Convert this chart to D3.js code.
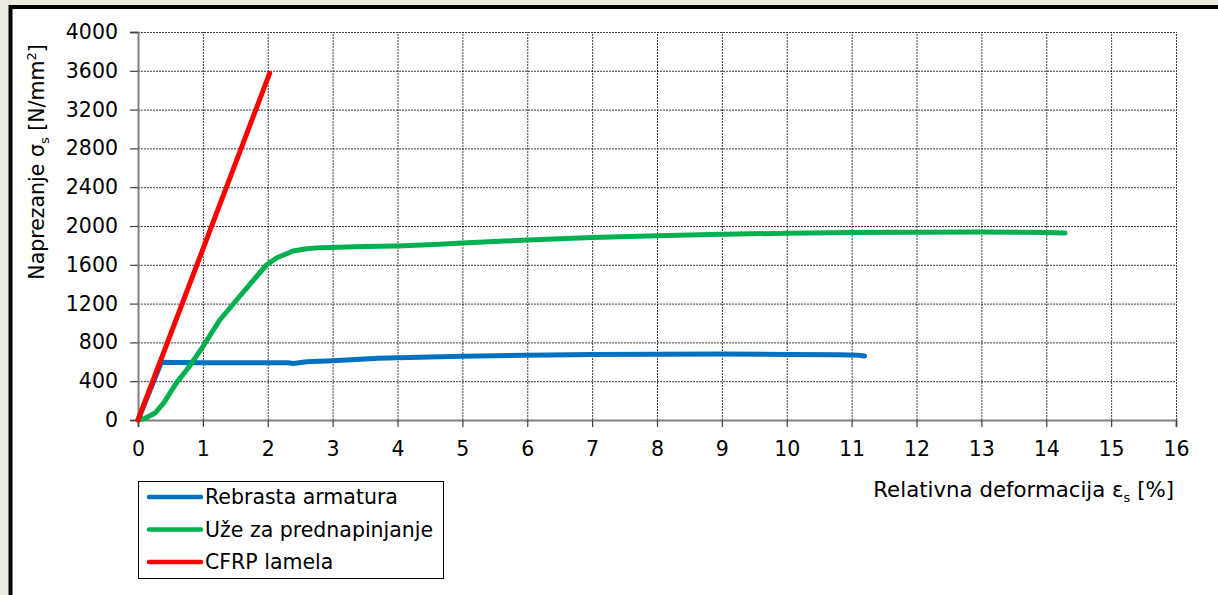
<!DOCTYPE html>
<html><head><meta charset="utf-8">
<script src="https://cdn.jsdelivr.net/npm/d3@7"></script>
<style>
html,body{margin:0;padding:0;background:#ECE9DF;}
svg{display:block;}
text{font-family:"DejaVu Sans",sans-serif;fill:#000;}
</style></head><body>
<svg id="c" width="1218" height="595"></svg>
<script>
const xTicks = [0,1,2,3,4,5,6,7,8,9,10,11,12,13,14,15,16];
const yTicks = [0,400,800,1200,1600,2000,2400,2800,3200,3600,4000];
const seriesNames = ["Rebrasta armatura","Uže za prednapinjanje","CFRP lamela"];
const seriesColors = ["#0070C0","#00B050","#FF0000"];
const rebrasta = [[0,0],[0.36,595],[0.6,592],[1,590],[1.5,590],[2,590],[2.3,590],[2.4,582],[2.6,600],[3,612],[3.7,636],[4.5,650],[5,657],[6,668],[7,675],[8,678],[9,680],[10,676],[10.8,672],[11.1,668],[11.2,660]];
const uze = [[0,0],[0.1,15],[0.26,69],[0.4,180],[0.49,275],[0.6,390],[0.75,515],[0.83,590],[1.0,756],[1.26,1031],[1.52,1237],[1.78,1443],[1.98,1598],[2.14,1673],[2.39,1742],[2.6,1765],[2.81,1777],[3.5,1788],[4,1795],[4.65,1811],[5,1825],[6,1855],[7,1882],[8,1900],[9,1915],[10,1925],[11,1932],[12,1936],[13,1937],[13.5,1936],[14,1933],[14.29,1928]];
const cfrp = [[0,0],[2.03,3575]];
const allSeries = [rebrasta, uze, cfrp];

const svg = d3.select("#c");
// frame
svg.append("rect").attr("x",10.5).attr("y",7).attr("width",1230).attr("height",620)
  .attr("fill","#fff").attr("stroke","#000").attr("stroke-width",4);

const x = d3.scaleLinear().domain([0,16]).range([138,1176]);
const y = d3.scaleLinear().domain([0,4000]).range([420,32]);

// grid
const g = svg.append("g");
g.selectAll(".hg").data(yTicks.filter(d=>d>0)).join("line")
  .attr("x1",x(0)).attr("x2",x(16)).attr("y1",d=>y(d)+0.5).attr("y2",d=>y(d)+0.5)
  .attr("stroke","#000").attr("stroke-width",1).attr("stroke-dasharray","2,1").attr("opacity",0.75);
g.selectAll(".vg").data(xTicks.filter(d=>d>0)).join("line")
  .attr("y1",y(0)).attr("y2",y(4000)).attr("x1",d=>x(d)+0.5).attr("x2",d=>x(d)+0.5)
  .attr("stroke","#000").attr("stroke-width",1).attr("stroke-dasharray","2,1").attr("opacity",0.75);

// axes
const xa = svg.append("g").attr("transform",`translate(0,${y(0)})`)
  .call(d3.axisBottom(x).tickValues(xTicks).tickSize(7).tickPadding(14).tickFormat(d3.format("d")));
const ya = svg.append("g").attr("transform",`translate(${x(0)},0)`)
  .call(d3.axisLeft(y).tickValues(yTicks).tickSize(8).tickPadding(12).tickFormat(d3.format("d")));
[xa,ya].forEach(a=>{
  a.select(".domain").attr("stroke","#808080").attr("stroke-width",2);
  a.selectAll(".tick line").attr("stroke","#404040").attr("stroke-width",1.2);
  a.selectAll(".tick text").attr("font-size",20.5).attr("font-family","DejaVu Sans").attr("fill","#000");
});

// lines
const line = d3.line().x(d=>x(d[0])).y(d=>y(d[1]));
allSeries.forEach((s,i)=>{
  svg.append("path").datum(s).attr("d",line).attr("fill","none")
    .attr("stroke",seriesColors[i]).attr("stroke-width",5)
    .attr("stroke-linejoin","round").attr("stroke-linecap","round");
});

// axis titles
const yt = svg.append("text").attr("transform","translate(44,162) rotate(-90)")
  .attr("text-anchor","middle").attr("font-size",20.5);
yt.append("tspan").text("Naprezanje σ");
yt.append("tspan").text("s").attr("font-size",13).attr("dy",5);
yt.append("tspan").text(" [N/mm").attr("dy",-5);
yt.append("tspan").text("2").attr("font-size",13).attr("dy",-8);
yt.append("tspan").text("]").attr("dy",8);

const xt = svg.append("text").attr("x",1174).attr("y",497).attr("text-anchor","end").attr("font-size",21.3);
xt.append("tspan").text("Relativna deformacija ε");
xt.append("tspan").text("s").attr("font-size",13).attr("dy",5);
xt.append("tspan").text(" [%]").attr("dy",-5);

// legend
const lg = svg.append("g");
lg.append("rect").attr("x",138.5).attr("y",481.5).attr("width",305).attr("height",97)
  .attr("fill","#fff").attr("stroke","#000").attr("stroke-width",1);
seriesNames.forEach((n,i)=>{
  const yy = 497 + i*32.5;
  lg.append("line").attr("x1",149).attr("x2",201).attr("y1",yy).attr("y2",yy)
    .attr("stroke",seriesColors[i]).attr("stroke-width",4.5).attr("stroke-linecap","round");
  lg.append("text").attr("x",205).attr("y",yy+7).attr("font-size",20.5).text(n);
});
</script>
</body></html>
